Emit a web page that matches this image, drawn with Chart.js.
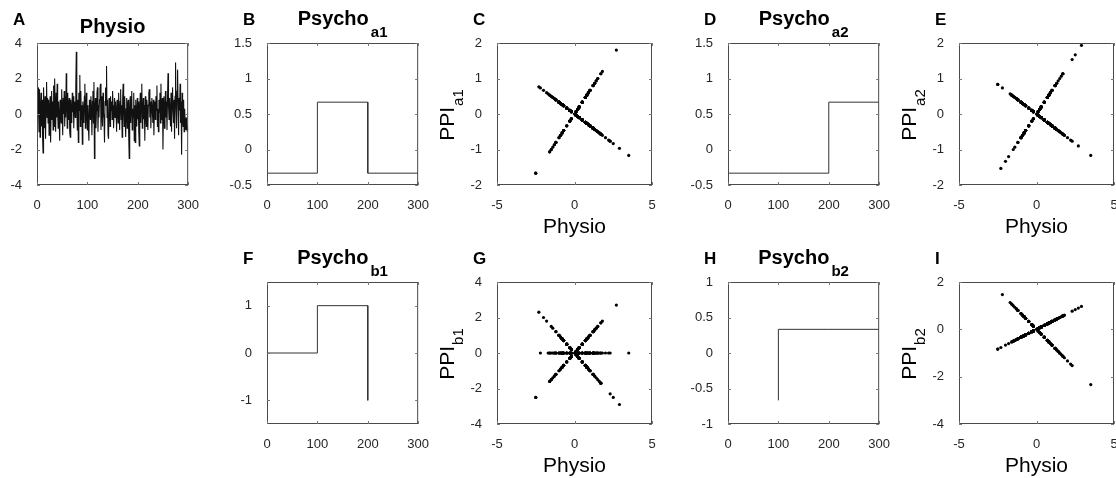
<!DOCTYPE html>
<html>
<head>
<meta charset="utf-8">
<script src="https://cdn.jsdelivr.net/npm/chart.js@4.4.1/dist/chart.umd.min.js"></script>
<style>
  html, body { margin: 0; padding: 0; background: #fff; }
  body { width: 1116px; height: 478px; position: relative; overflow: hidden; }
  canvas { position: absolute; }
</style>
</head>
<body>
<script>
// Physio time series, samples 1..300
const physio = [
  -0.3, 1.5, 0.5, -1.0, 1.4, -1.3, 0.2, 1.2, -0.7, 0.8, -1.2, -2.2, 1.5, 0.3, -0.8, 1.0, -1.4, 0.7, 1.8, -0.2,
  0.9, -0.5, 0.8, -1.2, 0.3, 1.0, -1.6, 0.2, 1.3, -0.3, 0.7, -0.9, 1.6, -0.7, 2.0, 0.5, -1.0, 1.2, -0.2, 1.7,
  0.1, -0.8, 0.7, -0.3, -1.5, 0.8, 0.2, -0.5, 1.4, 0.3, -1.2, 0.9, 0.0, 1.3, -0.7, 1.0, -0.2, 2.3, 0.7, -0.8,
  1.2, -0.3, 0.5, 0.9, -1.0, -1.3, 0.8, 0.2, -0.5, 1.2, 0.1, 1.0, -0.8, 0.7, 0.3, -0.2, 1.5, 3.5, 0.5, -0.9,
  0.8, -1.6, 1.2, 0.2, 2.2, -0.7, 1.3, -0.3, 0.5, -1.7, 0.7, 0.1, -0.5, 1.0, 1.7, -0.8, 0.3, 1.2, -0.2, -0.9,
  0.5, -0.7, -1.5, 0.8, 0.1, -0.3, 1.0, 0.2, -1.2, 0.7, 1.3, -0.5, 1.8, -2.5, 0.3, 0.9, -0.8, 0.2, 1.2, 1.5,
  -1.0, 0.5, -0.2, 0.8, 1.4, 1.7, -0.9, 0.3, 1.0, -0.7, 1.2, 0.1, -0.3, -1.6, 0.7, 1.5, 0.5, 2.7, -0.2, 0.8,
  -1.2, -1.4, 0.9, 0.3, -0.7, 1.0, 0.2, 0.7, -0.3, 1.3, 0.5, -0.8, 0.2, 0.9, -0.2, 0.7, 0.1, -1.0, 0.8, 0.3,
  -0.5, 1.2, 0.2, -0.9, 0.7, 1.4, -0.3, 0.5, -1.3, 0.8, 1.7, 0.2, -0.7, 1.0, -0.2, -1.3, 0.3, 0.9, -0.8, 0.5,
  0.8, -1.2, -2.5, 0.2, 1.0, -0.5, 0.7, 1.3, -0.9, 0.3, -0.2, 1.2, -1.5, 0.5, -1.6, 0.8, 0.1, -0.7, 0.9, -0.3,
  0.7, -1.0, -1.8, 0.3, 1.2, -0.5, 0.8, 1.7, -0.8, 0.2, 0.9, -0.3, 0.5, -1.5, 1.0, 0.1, -0.7, 0.8, 0.3, -0.9,
  0.5, 1.2, 1.4, -0.2, 0.7, -0.8, 0.3, 0.9, 0.1, -0.5, 0.8, -1.2, 0.2, 0.7, -0.3, 1.0, 0.2, 1.6, -0.7, 0.3,
  -1.0, 0.8, 0.1, 1.2, -0.5, 1.7, -0.3, 0.5, 0.9, -2.0, 0.3, 1.0, -0.8, 0.2, 1.3, -0.2, 0.7, -0.9, 0.8, 2.3,
  0.5, -0.3, 0.9, 0.1, -0.7, 1.2, -1.0, 0.7, 1.5, 0.2, -0.5, 0.8, -1.4, 1.0, 2.9, 0.3, -0.8, 1.3, 2.5, 0.5,
  -1.2, 0.9, 0.2, 1.7, -0.5, 0.7, -2.3, 1.2, -0.2, -0.7, 0.8, -1.0, 0.3, -0.5, -0.9, -0.2, -0.8, -0.7, -1.0, -0.8
];

// block design: three blocks of 100 samples
const blockStarts = [0, 100, 200];
const blockEnd = 300;

// psychological regressors, one value per block
const psychoA1 = [-1/3, 2/3, -1/3];
const psychoA2 = [-1/3, -1/3, 2/3];
const psychoB1 = [0, 1, -1];
const psychoB2 = [-2/3, 1/3, 1/3];

// tick labels
const timeTicks = [0, 100, 200, 300];
const physioXTicks = [-5, 0, 5];
const physioYTicks = [-4, -2, 0, 2, 4];
const psychoATicks = [-0.5, 0, 0.5, 1, 1.5];
const psychoB1Ticks = [-1, 0, 1];
const psychoB2Ticks = [-1, -0.5, 0, 0.5, 1];
const ppiATicks = [-2, -1, 0, 1, 2];
const ppiB1Ticks = [-4, -2, 0, 2, 4];
const ppiB2Ticks = [-4, -2, 0, 2];

const FONT = '"Liberation Sans", Arial, Helvetica, sans-serif';
const PLOT_W = 155, PLOT_H = 142;
const PAD_L = 64, PAD_R = 12, PAD_T = 36, PAD_B = 56;

const panels = [
  {letter: 'A', kind: 'physio', left: 37, top: 43, title: 'Physio', x: [0, 300], xTicks: timeTicks, y: [-4, 4], yTicks: physioYTicks},
  {letter: 'B', kind: 'psycho', psycho: psychoA1, left: 267, top: 43, title: 'Psycho', sub: 'a1', x: [0, 300], xTicks: timeTicks, y: [-0.5, 1.5], yTicks: psychoATicks},
  {letter: 'C', kind: 'ppi', psycho: psychoA1, left: 497, top: 43, ySub: 'a1', x: [-5, 5], xTicks: physioXTicks, y: [-2, 2], yTicks: ppiATicks},
  {letter: 'D', kind: 'psycho', psycho: psychoA2, left: 728, top: 43, title: 'Psycho', sub: 'a2', x: [0, 300], xTicks: timeTicks, y: [-0.5, 1.5], yTicks: psychoATicks},
  {letter: 'E', kind: 'ppi', psycho: psychoA2, left: 959, top: 43, ySub: 'a2', x: [-5, 5], xTicks: physioXTicks, y: [-2, 2], yTicks: ppiATicks},
  {letter: 'F', kind: 'psycho', psycho: psychoB1, shown: [0, 200], left: 267, top: 282, title: 'Psycho', sub: 'b1', x: [0, 300], xTicks: timeTicks, y: [-1.5, 1.5], yTicks: psychoB1Ticks},
  {letter: 'G', kind: 'ppi', psycho: psychoB1, left: 497, top: 282, ySub: 'b1', x: [-5, 5], xTicks: physioXTicks, y: [-4, 4], yTicks: ppiB1Ticks},
  {letter: 'H', kind: 'psycho', psycho: psychoB2, shown: [100, 300], left: 728, top: 282, title: 'Psycho', sub: 'b2', x: [0, 300], xTicks: timeTicks, y: [-1, 1], yTicks: psychoB2Ticks},
  {letter: 'I', kind: 'ppi', psycho: psychoB2, left: 959, top: 282, ySub: 'b2', x: [-5, 5], xTicks: physioXTicks, y: [-4, 2], yTicks: ppiB2Ticks}
];

function blockOf(t) {
  let b = 0;
  blockStarts.forEach((s, k) => { if (t > s) b = k; });
  return b;
}

function buildData(p) {
  if (p.kind === 'physio') {
    return physio.map((v, i) => ({x: i + 1, y: v}));
  }
  if (p.kind === 'psycho') {
    const pts = [];
    p.psycho.forEach((v, k) => {
      const end = k + 1 < blockStarts.length ? blockStarts[k + 1] : blockEnd;
      pts.push({x: blockStarts[k], y: v}, {x: end, y: v});
    });
    const span = p.shown || [0, blockEnd];
    return pts.filter(d => d.x >= span[0] && d.x <= span[1]);
  }
  // PPI = Physio x Psycho
  return physio.map((v, i) => ({x: v, y: v * p.psycho[blockOf(i + 1)]}));
}

// MATLAB-like box with inward ticks, plus panel texts
const boxPlugin = {
  id: 'matBox',
  afterDatasetsDraw(chart, args, opts) {
    const {ctx, chartArea: a, scales} = chart;
    ctx.save();
    ctx.strokeStyle = '#4a4a4a';
    ctx.lineWidth = 1;
    ctx.strokeRect(a.left + 0.5, a.top + 0.5, a.right - a.left - 1, a.bottom - a.top - 1);
    ctx.strokeStyle = '#777';
    ctx.beginPath();
    scales.x.ticks.forEach(t => {
      const px = Math.round(scales.x.getPixelForValue(t.value)) + 0.5;
      ctx.moveTo(px, a.bottom); ctx.lineTo(px, a.bottom - 3);
      ctx.moveTo(px, a.top); ctx.lineTo(px, a.top + 3);
    });
    scales.y.ticks.forEach(t => {
      const py = Math.round(scales.y.getPixelForValue(t.value)) + 0.5;
      ctx.moveTo(a.left, py); ctx.lineTo(a.left + 3, py);
      ctx.moveTo(a.right, py); ctx.lineTo(a.right - 3, py);
    });
    ctx.stroke();

    const p = opts.panel;
    const cx = (a.left + a.right) / 2;
    ctx.fillStyle = '#000';
    ctx.textBaseline = 'alphabetic';
    // panel letter
    ctx.font = 'bold 17px ' + FONT;
    ctx.textAlign = 'left';
    ctx.fillText(p.letter, a.left - 24, a.top - 18);
    // title
    if (p.title) {
      ctx.font = 'bold 20px ' + FONT;
      const w1 = ctx.measureText(p.title).width;
      if (p.sub) {
        ctx.font = 'bold 15px ' + FONT;
        const w2 = ctx.measureText(p.sub).width;
        const x0 = cx - (w1 + 2 + w2) / 2;
        ctx.fillText(p.sub, x0 + w1 + 2, a.top - 6);
        ctx.font = 'bold 20px ' + FONT;
        ctx.fillText(p.title, x0, a.top - 18);
      } else {
        ctx.textAlign = 'center';
        ctx.fillText(p.title, cx, a.top - 10);
      }
    }
    if (p.kind === 'ppi') {
      // x title
      ctx.font = '21px ' + FONT;
      ctx.textAlign = 'center';
      ctx.fillText('Physio', cx, a.bottom + 48);
      // rotated y title PPI_sub
      ctx.translate(a.left - 43, (a.top + a.bottom) / 2 + 1);
      ctx.rotate(-Math.PI / 2);
      ctx.textAlign = 'left';
      ctx.font = '21px ' + FONT;
      const w1 = ctx.measureText('PPI').width;
      ctx.font = '15px ' + FONT;
      const w2 = ctx.measureText(p.ySub).width;
      const s = -(w1 + 1 + w2) / 2;
      ctx.fillText(p.ySub, s + w1 + 1, 9);
      ctx.font = '21px ' + FONT;
      ctx.fillText('PPI', s, 0);
    }
    ctx.restore();
  }
};

function axis(range, ticks, isX) {
  return {
    type: 'linear',
    min: range[0],
    max: range[1],
    grid: {display: false},
    border: {display: false},
    ticks: {
      padding: isX ? 5 : 7,
      color: '#262626',
      font: {family: FONT, size: 13},
      autoSkip: false,
      maxRotation: 0,
      callback: v => String(v)
    },
    afterBuildTicks: s => { s.ticks = ticks.map(v => ({value: v})); },
    afterFit: s => { if (isX) s.height = PAD_B; else s.width = PAD_L; }
  };
}

panels.forEach(p => {
  const cv = document.createElement('canvas');
  cv.width = PAD_L + PLOT_W + PAD_R;
  cv.height = PAD_T + PLOT_H + PAD_B;
  cv.style.left = (p.left - PAD_L) + 'px';
  cv.style.top = (p.top - PAD_T) + 'px';
  document.body.appendChild(cv);

  const isPPI = p.kind === 'ppi';
  const dataset = isPPI
    ? {data: buildData(p), showLine: false, pointRadius: 1.6, pointBackgroundColor: '#000', pointBorderWidth: 0}
    : {data: buildData(p), borderColor: p.kind === 'physio' ? '#111' : '#333', borderWidth: p.kind === 'physio' ? 1.1 : 1, pointRadius: 0, tension: 0};

  new Chart(cv, {
    type: isPPI ? 'scatter' : 'line',
    data: {datasets: [dataset]},
    options: {
      responsive: false,
      animation: false,
      events: [],
      layout: {padding: {top: PAD_T, right: PAD_R, bottom: 0, left: 0}},
      plugins: {legend: {display: false}, tooltip: {enabled: false}, matBox: {panel: p}},
      scales: {x: axis(p.x, p.xTicks, true), y: axis(p.y, p.yTicks, false)}
    },
    plugins: [boxPlugin]
  });
});
</script>
</body>
</html>
